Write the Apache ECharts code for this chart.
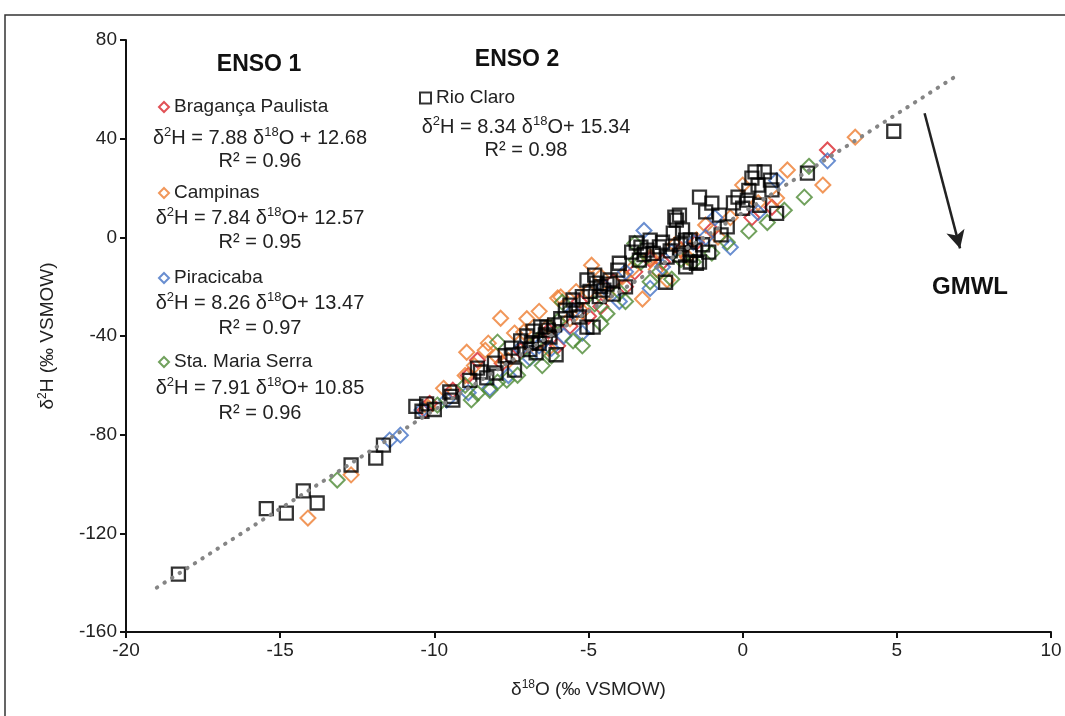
<!DOCTYPE html>
<html>
<head>
<meta charset="utf-8">
<script src="https://cdn.jsdelivr.net/npm/echarts@6/dist/echarts.min.js"></script>
<style>
  html, body { margin: 0; padding: 0; background: #fff; }
  #chart { width: 1065px; height: 716px; }
</style>
</head>
<body>
<div id="chart"></div>
<script>
// site names, regression parameters
const siteNames = ['Bragança Paulista', 'Campinas', 'Piracicaba', 'Sta. Maria Serra', 'Rio Claro']
const siteColors = ['#d9262c', '#ed7d31', '#4472c4', '#4e8a35', '#000000']
const slopes = [7.88, 7.84, 8.26, 7.91, 8.34]
const intercepts = [12.68, 12.57, 13.47, 10.85, 15.34]
const r2 = [0.96, 0.95, 0.97, 0.96, 0.98]

const xTicks = { min: -20, max: 10, step: 5 }
const yTicks = { min: -160, max: 80, step: 40 }

// [d18O, d2H]
const braganca = [
  [-10.15, -67.3], [-10.3, -70], [-9.4, -62], [-8.6, -49.8], [-8.9, -56], [-7.8, -51], [-7.2, -46],
  [-6.6, -41.8], [-6.3, -38], [-6.0, -44], [-5.6, -36], [-5.3, -26], [-5.0, -32], [-4.6, -28],
  [-4.2, -18], [-3.8, -20], [-3.5, -14], [-3.0, -9], [-2.6, -10], [-2.0, -5], [-1.5, -2],
  [-1.0, 3], [0.3, 8], [0.95, 12.2], [2.75, 35.4]
]
const campinas = [
  [-14.1, -113.8], [-12.7, -96.3], [-10.2, -69], [-9.7, -61.2], [-9.0, -56], [-8.95, -46.6],
  [-8.7, -52], [-8.35, -45.8], [-8.25, -42.9], [-8.0, -48], [-7.85, -32.8], [-7.6, -50],
  [-7.4, -38.8], [-7.1, -38.4], [-7.0, -33], [-6.9, -44], [-6.6, -30], [-6.3, -45], [-6.3, -36],
  [-6.0, -24.6], [-5.9, -24.2], [-5.6, -33], [-5.4, -22], [-5.2, -30], [-5.0, -22],
  [-4.9, -11.3], [-4.6, -16], [-4.4, -23], [-3.9, -16], [-3.6, -13], [-3.25, -25], [-3.0, -8],
  [-2.8, -13], [-2.45, -17.3], [-2.2, -3], [-1.8, -8], [-1.5, -1], [-1.2, 5], [-0.8, 0.1],
  [-0.4, 8], [0, 21.2], [0.5, 14], [1.1, 15.9], [1.45, 27.3], [2.6, 21.2], [3.65, 40.6]
]
const piracicaba = [
  [-11.45, -82.2], [-11.1, -80.2], [-10.4, -70], [-9.6, -66], [-8.9, -63], [-8.2, -61.2],
  [-7.6, -56], [-7.2, -45], [-6.9, -49], [-6.6, -44], [-6.2, -45], [-5.8, -40], [-5.5, -30],
  [-5.2, -38.8], [-4.5, -20], [-4.0, -26], [-3.8, -14], [-3.2, 2.8], [-3.0, -20.7],
  [-2.6, -12], [-2.3, -6], [-1.6, -2], [-1.2, 0], [-0.9, 8], [-0.4, -4], [0.5, 10],
  [1.1, 23], [2.75, 31]
]
const mariaSerra = [
  [-13.15, -98.4], [-9.9, -68], [-9.0, -60], [-8.8, -65.9], [-8.6, -63.2], [-8.2, -62],
  [-7.95, -58.7], [-7.65, -57.9], [-7.3, -55.9], [-7.95, -42.5], [-7.0, -50], [-6.65, -41.7],
  [-6.5, -52], [-6.2, -48], [-6.0, -34], [-5.85, -26.3], [-5.5, -42], [-5.2, -44],
  [-4.8, -27], [-4.6, -35], [-4.4, -31], [-4.0, -22], [-3.8, -26], [-3.5, -2.5],
  [-3.45, -9.2], [-3.3, -10], [-3.0, -18], [-2.7, -14], [-2.3, -17], [-2.0, -9],
  [-1.6, -10], [-1.0, -6.4], [-0.5, -2], [0.2, 2.5], [0.8, 6], [1.35, 11], [2.0, 16.3],
  [2.15, 28.8]
]
const rioClaro = [
  [-18.3, -136.5], [-15.45, -110], [-14.8, -111.8], [-14.25, -102.8], [-13.8, -107.7],
  [-12.7, -92.3], [-11.9, -89.5], [-11.65, -84.2], [-10.6, -68.5], [-10.4, -70.5],
  [-10.0, -69.8], [-10.25, -67.5], [-9.5, -62.7], [-9.4, -66], [-9.45, -64.5],
  [-8.85, -58], [-8.6, -53], [-8.5, -54.6], [-8.05, -51], [-8.3, -57], [-8.0, -55],
  [-7.7, -48], [-7.5, -44.9], [-7.45, -47.7], [-7.4, -53.8], [-7.2, -42], [-7.0, -40],
  [-6.9, -45.5], [-6.85, -42.7], [-6.8, -38], [-6.7, -46.8], [-6.6, -43], [-6.05, -47.6],
  [-6.55, -36.3], [-6.3, -37.6], [-6.1, -35.5], [-6.4, -39.6], [-6.35, -36.4], [-6.25, -40.4],
  [-5.9, -33], [-5.75, -29.5], [-5.6, -27.5], [-5.5, -25.4], [-5.4, -29.5], [-5.3, -32.3],
  [-5.2, -24], [-5.05, -36.4], [-4.85, -36.4],
  [-5.05, -17.3], [-4.75, -18.6], [-4.5, -21.4], [-4.95, -21.9], [-4.65, -24], [-4.8, -15.3],
  [-4.6, -20], [-4.4, -19], [-4.3, -17.3], [-4.2, -23], [-3.8, -20.1], [-4.0, -10.5], [-4.05, -13.3],
  [-3.6, -6], [-3.45, -2.3], [-3.3, -4], [-3.2, -7], [-3.1, -5.2], [-3.35, -9.2], [-3.0, -1.1],
  [-2.9, -6.5], [-2.7, -3.9], [-2.6, -2], [-2.45, -8], [-2.35, -5.5], [-2.5, -18.2],
  [-2.25, 1.7], [-2.0, -3], [-1.85, -1.1], [-1.7, -1], [-1.55, -5.2], [-2.05, -7.2], [-1.5, -10.5],
  [-1.7, -10], [-2.15, 7], [-2.2, 8.2], [-1.95, 3], [-1.7, -7.2], [-1.4, -10], [-1.85, -12],
  [-1.3, -3], [-1.1, -6], [-0.7, 1],
  [-1.4, 16.3], [-1.0, 13.9], [-1.2, 10.3], [-0.75, 9], [-2.05, 9], [-0.5, 4.2],
  [-0.3, 14], [-0.15, 16.3], [0.15, 15.1], [0.55, 13], [0, 11.8], [0.2, 19], [0.3, 24],
  [0.4, 26.5], [0.7, 26.5], [0.9, 23.2], [0.5, 21.2], [0.95, 19.2], [1.1, 9.7],
  [2.1, 26], [4.9, 43]
]
const gmwl = [[-19, -142], [7, 66]]
const arrowCoords = [[5.9, 50.3], [7.05, -4.5]]

const FONT = "'Liberation Sans', Arial, sans-serif"
const NARROW = "'Liberation Sans Narrow', 'Liberation Sans', Arial, sans-serif"
const TEXT = '#222'

const siteData = [braganca, campinas, piracicaba, mariaSerra, rioClaro]

function eqText(i) {
  const plus = i === 0 ? ' + ' : '+ '
  return '{n|δ}{s|2}{n|H = ' + slopes[i].toFixed(2) + ' δ}{s|18}{n|O' + plus + intercepts[i].toFixed(2) + '}'
}

const eqRich = {
  n: { fontSize: 20, fontFamily: FONT, fill: TEXT, lineHeight: 24 },
  s: { fontSize: 13, fontFamily: FONT, fill: TEXT, lineHeight: 13, verticalAlign: 'top' }
}

// text block positions (legend row, equation, r2)
const blocks = [
  { lx: 158, ly: 97, cx: 260, ey: 138, ry: 161 },
  { lx: 158, ly: 183, cx: 260, ey: 218, ry: 242 },
  { lx: 158, ly: 268, cx: 260, ey: 303, ry: 328 },
  { lx: 158, ly: 352, cx: 260, ey: 388, ry: 413 },
  { lx: 419, ly: 88, cx: 526, ey: 127, ry: 150 }
]

const legends = siteNames.map((name, i) => ({
  data: [name],
  left: blocks[i].lx,
  top: blocks[i].ly,
  padding: 0,
  selectedMode: false,
  icon: i === 4 ? 'rect' : 'diamond',
  itemWidth: i === 4 ? 11 : 10,
  itemHeight: i === 4 ? 11 : 10,
  itemGap: 0,
  itemStyle: { color: 'rgba(0,0,0,0)', borderColor: siteColors[i], borderWidth: 2 },
  textStyle: { fontSize: 19, color: TEXT, fontFamily: FONT, lineHeight: 20 }
}))

const graphics = [
  { type: 'rect', shape: { x: 5, y: 15, width: 1080, height: 720 }, style: { fill: 'none', stroke: '#333', lineWidth: 1.5 }, silent: true },
  { type: 'text', style: { text: 'ENSO 1', x: 259, y: 65, align: 'center', verticalAlign: 'middle', fontSize: 23, fontWeight: 'bold', fontFamily: FONT, fill: '#111' } },
  { type: 'text', style: { text: 'ENSO 2', x: 517, y: 60, align: 'center', verticalAlign: 'middle', fontSize: 23, fontWeight: 'bold', fontFamily: FONT, fill: '#111' } },
  { type: 'text', style: { text: 'GMWL', x: 970, y: 287, align: 'center', verticalAlign: 'middle', fontSize: 24, fontWeight: 'bold', fontFamily: FONT, fill: '#111' } }
]
blocks.forEach((b, i) => {
  graphics.push({ type: 'text', style: { text: eqText(i), x: b.cx, y: b.ey, align: 'center', verticalAlign: 'middle', rich: eqRich } })
  graphics.push({ type: 'text', style: { text: 'R² = ' + r2[i].toFixed(2), x: b.cx, y: b.ry, align: 'center', verticalAlign: 'middle', fontSize: 20, fontFamily: FONT, fill: TEXT } })
})

const scatterSeries = siteNames.map((name, i) => ({
  name,
  type: 'scatter',
  data: siteData[i],
  symbol: i === 4 ? 'rect' : 'diamond',
  symbolSize: i === 4 ? 13 : 15,
  itemStyle: { color: 'rgba(0,0,0,0)', borderColor: siteColors[i], borderWidth: i === 4 ? 2.3 : 2 },
  emphasis: { disabled: true },
  z: i === 4 ? 3 : 2
}))

const axisCommon = {
  axisLine: { onZero: false, lineStyle: { color: '#111', width: 2 } },
  axisTick: { inside: false, length: 6, lineStyle: { color: '#111', width: 2 } },
  splitLine: { show: false },
  axisLabel: { fontSize: 19, color: TEXT, fontFamily: NARROW, margin: 9 }
}

const nameRich = {
  n: { fontSize: 19, fontFamily: NARROW, color: TEXT, lineHeight: 22 },
  s: { fontSize: 12, fontFamily: NARROW, color: TEXT, lineHeight: 12, verticalAlign: 'top' }
}

const option = {
  animation: false,
  backgroundColor: '#fff',
  grid: { left: 126, right: 14, top: 40, bottom: 84 },
  legend: legends,
  xAxis: {
    type: 'value',
    min: xTicks.min, max: xTicks.max, interval: xTicks.step,
    ...axisCommon,
    name: '{n|δ}{s|18}{n|O (‰ VSMOW)}',
    nameLocation: 'middle',
    nameGap: 47,
    nameTextStyle: { rich: nameRich }
  },
  yAxis: {
    type: 'value',
    min: yTicks.min, max: yTicks.max, interval: yTicks.step,
    ...axisCommon,
    name: '{n|δ}{s|2}{n|H (‰ VSMOW)}',
    nameLocation: 'middle',
    nameGap: 67,
    nameTextStyle: { rich: nameRich }
  },
  graphic: graphics,
  series: [
    ...scatterSeries,
    {
      name: 'GMWL',
      type: 'line',
      data: gmwl,
      symbol: 'none',
      silent: true,
      z: 4,
      lineStyle: { color: '#858585', width: 4, type: [0.5, 8.5], cap: 'round' },
      markLine: {
        silent: true,
        symbol: ['none', 'arrow'],
        symbolSize: [14, 18],
        label: { show: false },
        lineStyle: { color: '#222', width: 2.5, type: 'solid' },
        data: [[{ coord: arrowCoords[0] }, { coord: arrowCoords[1] }]]
      }
    }
  ]
}

const chart = echarts.init(document.getElementById('chart'))
chart.setOption(option)
</script>
</body>
</html>
